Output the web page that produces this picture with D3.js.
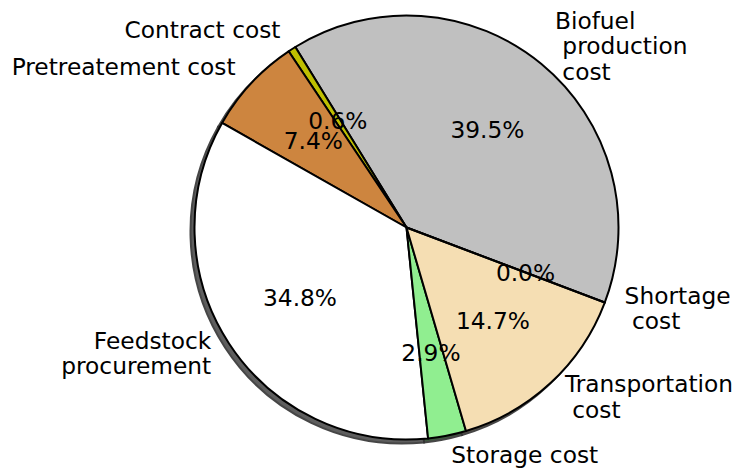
<!DOCTYPE html>
<html>
<head>
<meta charset="utf-8">
<script src="https://cdn.jsdelivr.net/npm/d3@7"></script>
<style>
  body { margin: 0; background: #fff; }
  svg { display: block; font-family: "DejaVu Sans", sans-serif; }
</style>
</head>
<body>
<svg id="chart" width="735" height="468"></svg>
<script>
// slice order goes counterclockwise, like the original pie
const labels = [
  "Biofuel\n production\n cost",
  "Contract cost",
  "Pretreatement cost",
  "Feedstock\nprocurement",
  "Storage cost",
  "Transportation\n cost",
  "Shortage\n cost"
];
const values = [39.5, 0.6, 7.4, 34.8, 2.9, 14.7, 0.01];
const pctText = ["39.5%", "0.6%", "7.4%", "34.8%", "2.9%", "14.7%", "0.0%"];
const colors = ["#c0c0c0", "#bfbf00", "#cd853f", "#ffffff", "#90ee90", "#f5deb3", "#ffd700"];

const svg = d3.select("#chart");
const cx = 406.5, cy = 227.5, r = 212;
const fontSize = 23.3;

// start at -20.7 deg (math angle), go counterclockwise
const start = (90 + 20.7) * Math.PI / 180;
const pie = d3.pie().sort(null).value(d => d).startAngle(start).endAngle(start - 2 * Math.PI);
const arcs = pie(values);

const arc = d3.arc().innerRadius(0).outerRadius(r);

const g = svg.append("g").attr("transform", `translate(${cx},${cy})`);

// shadow
const shadow = g.append("g").attr("transform", "translate(-4,4)");
shadow.selectAll("path")
  .data(arcs)
  .enter().append("path")
  .attr("d", arc)
  .attr("fill", (d, i) => {
    const c = d3.rgb(colors[i]);
    return d3.rgb(c.r * 0.3, c.g * 0.3, c.b * 0.3);
  })
  .attr("stroke", "#333")
  .attr("stroke-width", 2)
  .attr("opacity", 0.9);

g.selectAll(".slice")
  .data(arcs)
  .enter().append("path")
  .attr("class", "slice")
  .attr("d", arc)
  .attr("fill", (d, i) => colors[i])
  .attr("stroke", "#000")
  .attr("stroke-width", 2)
  .attr("stroke-linejoin", "round");

function mid(d) {
  return (d.startAngle + d.endAngle) / 2;
}

// percent labels
g.selectAll(".pct")
  .data(arcs)
  .enter().append("text")
  .attr("class", "pct")
  .attr("x", d => Math.sin(mid(d)) * r * 0.6)
  .attr("y", d => -Math.cos(mid(d)) * r * 0.6)
  .attr("text-anchor", "middle")
  .attr("dominant-baseline", "central")
  .attr("font-size", fontSize)
  .text((d, i) => pctText[i]);

// outer labels
const lineH = 25.5;
arcs.forEach((d, i) => {
  const a = mid(d);
  const x = Math.sin(a) * r * 1.1;
  const y = -Math.cos(a) * r * 1.1 - 2;
  const lines = labels[i].split("\n");
  const t = g.append("text")
    .attr("font-size", fontSize)
    .attr("text-anchor", x >= 0 ? "start" : "end")
    .attr("xml:space", "preserve")
    .style("white-space", "pre");
  lines.forEach((ln, k) => {
    t.append("tspan")
      .attr("x", x)
      .attr("y", y + (k - (lines.length - 1) / 2) * lineH)
      .attr("dominant-baseline", "central")
      .text(ln);
  });
});
</script>
</body>
</html>
